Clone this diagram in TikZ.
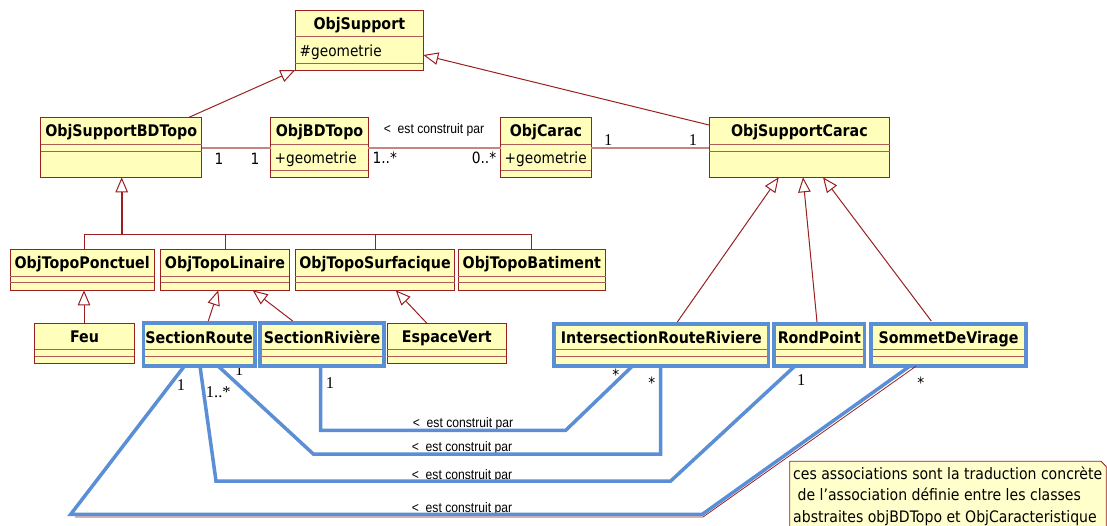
\documentclass[tikz,border=0pt]{standalone}
\usepackage{fontspec}
\usetikzlibrary{arrows.meta,calc}
\newfontfamily\tah[FakeStretch=0.89]{DejaVu Sans}
\newfontfamily\narrowf[FakeStretch=0.88]{Liberation Sans}
\newfontfamily\serf{Liberation Serif}
\definecolor{clsred}{HTML}{9A1F1F}
\definecolor{clsfill}{HTML}{FFFFBB}
\definecolor{compred}{HTML}{B05A5A}
\definecolor{assocpink}{HTML}{C58585}
\definecolor{hlblue}{HTML}{5A8ED5}
\definecolor{notefill}{HTML}{FFFFCC}
\tikzset{
  clsbox/.style={draw=clsred,line width=1pt,fill=clsfill,anchor=north west,inner sep=0pt,outer sep=0pt},
  compline/.style={draw=compred,line width=1pt},
  ttl/.style={font={\tah\bfseries\fontsize{16}{19}\selectfont},anchor=base,inner sep=0pt},
  attr/.style={font={\tah\fontsize{15.4}{18}\selectfont},anchor=base west,inner sep=0pt},
  mults/.style={font={\tah\fontsize{15.5}{18}\selectfont},anchor=base,inner sep=0pt},
  multr/.style={font={\serf\fontsize{16.5}{19}\selectfont},anchor=base,inner sep=0pt},
  role/.style={font={\narrowf\fontsize{13.8}{16}\selectfont},anchor=base,inner sep=0pt},
  gen/.style={draw=clsred,line width=1pt,-{Triangle[length=15pt,width=12.5pt,fill=white,line width=1pt]}},
  assoc/.style={draw=assocpink,line width=2pt},
  hlbox/.style={draw=hlblue,line width=3.6pt,anchor=north west,inner sep=0pt,outer sep=0pt},
  conn/.style={draw=hlblue,line width=3.5pt},
  connred/.style={draw=clsred,line width=0.8pt},
  notebox/.style={draw=clsred,line width=0.8pt,fill=notefill},
  notetxt/.style={font={\tah\fontsize{15.8}{21.3}\selectfont},anchor=base west,inner sep=0pt}
}
\newcommand\umlclass[8]{%
  \node[clsbox,minimum width={(#4)-(#2)},minimum height={(#5)-(#3)}] (#1) at (#2,#3) {};
  \node[ttl] (#1-t) at ({((#2)+(#4))/2},{((#3)+(#7))/2+6}) {#6};
  \draw[compline] (#1.west |- 0,#7) -- (#1.east |- 0,#7);
  \draw[compline] (#1.west |- 0,#8) -- (#1.east |- 0,#8);}
\newcommand\hlframe[5]{%
  \node[hlbox,minimum width={(#4)-(#2)-3.6},minimum height={(#5)-(#3)-3.6}] (#1) at ({(#2)+1.8},{(#3)+1.8}) {};}
\begin{document}
\begin{tikzpicture}[x=1pt,y=-1pt]
\useasboundingbox (0,0) rectangle (1107,525);
% ---------- classes ----------
\umlclass{OS}{295.3}{10}{423.3}{70}{ObjSupport}{36.7}{63.3}
\node[attr] (OS-a) at (299.5,56.5) {\#geometrie};
\umlclass{BDT}{40.7}{117.3}{201.7}{177.3}{ObjSupportBDTopo}{144.3}{151}
\umlclass{OBT}{270.7}{117.3}{368.3}{177.3}{ObjBDTopo}{144.3}{170}
\node[attr] (OBT-a) at (274.5,163.3) {+geometrie};
\umlclass{OC}{500.7}{117.3}{591.3}{177.3}{ObjCarac}{144.3}{170}
\node[attr] (OC-a) at (504.5,163.3) {+geometrie};
\umlclass{OSC}{709}{117.3}{889.7}{177.3}{ObjSupportCarac}{144.3}{151}
\umlclass{OTP}{10}{249.3}{154.3}{290.3}{ObjTopoPonctuel}{276}{282.7}
\umlclass{OTL}{160.7}{249.3}{289.3}{290.3}{ObjTopoLinaire}{276}{282.7}
\umlclass{OTS}{295.3}{249.3}{454.7}{290.3}{ObjTopoSurfacique}{276}{282.7}
\umlclass{OTB}{458}{249.3}{605.7}{290.3}{ObjTopoBatiment}{276}{282.7}
\umlclass{Feu}{34.7}{323.7}{134.3}{363.7}{Feu}{349.7}{356.3}
\umlclass{EV}{387.3}{323.7}{506.3}{363.7}{EspaceVert}{349.7}{356.3}
\umlclass{SR}{144}{324.5}{254}{365}{SectionRoute}{349.7}{356.3}
\umlclass{SRV}{260.6}{324.5}{383.4}{365}{SectionRivière}{349.7}{356.3}
\umlclass{IRR}{554.6}{325}{768}{365}{IntersectionRouteRiviere}{349.7}{356.3}
\umlclass{RP}{774.6}{325}{864}{365}{RondPoint}{349.7}{356.3}
\umlclass{SDV}{871.3}{325}{1025.7}{365}{SommetDeVirage}{349.7}{356.3}
% ---------- generalizations ----------
\draw[gen] (189,0 |- BDT.north) -- (OS.south west);
\draw[gen] (OSC.west |- 0,125) -- (OS.east |- 0,55);
\coordinate (bus) at (121.7,234.3);
\draw[draw=clsred,line width=1pt] (84,0 |- OTP.north) -- (84,234.3) -- (531.3,234.3) -- (531.3,0 |- OTB.north);
\draw[draw=clsred,line width=1pt] (225,234.3) -- (225,0 |- OTL.north);
\draw[draw=clsred,line width=1pt] (375,234.3) -- (375,0 |- OTS.north);
\draw[gen,line width=2pt] (bus) -- (121.7,0 |- BDT.south);
\draw[gen] (84,0 |- Feu.north) -- (84,0 |- OTP.south);
\draw[gen] (208.3,321) -- (218.3,0 |- OTL.south);
\draw[gen] (292.7,321) -- (252.7,0 |- OTL.south);
\draw[gen] (427.3,0 |- EV.north) -- (395.7,0 |- OTS.south);
\draw[gen] (677.3,322) -- (778.7,0 |- OSC.south);
\draw[gen] (817,322) -- (803,0 |- OSC.south);
\draw[gen] (931.3,321) -- (823,0 |- OSC.south);
% ---------- associations (top) ----------
\draw[assoc] (BDT.east |- 0,147.7) -- (OBT.west |- 0,147.7);
\draw[assoc] (OBT.east |- 0,147.7) -- (OC.west |- 0,147.7);
\draw[assoc] (OC.east |- 0,147.7) -- (OSC.west |- 0,147.7);
\node[mults] (m1) at (219,164) {1};
\node[mults] (m2) at (255,164) {1};
\node[mults] (m3) at (384.8,163.3) {1..*};
\node[mults] (m4) at (484,163.3) {0..*};
\node[role] (r0) at (434,133.3) {<\ \ est construit par};
\node[multr] (m5) at (608.3,145) {1};
\node[multr] (m6) at (693,145) {1};
% ---------- lower labels ----------
\node[multr] (m7) at (181,390.3) {1};
\node[multr] (m8) at (218.3,397) {1..*};
\node[multr] (m9) at (239.3,375.3) {1};
\node[multr] (m10) at (330,388.7) {1};
\node[mults] (m11) at (615.7,380.5) {*};
\node[mults] (m12) at (651.7,388.3) {*};
\node[multr] (m13) at (801.3,385.3) {1};
\node[mults] (m14) at (920.7,388) {*};
\node[role] (r1) at (463,427.7) {<\ \ est construit par};
\node[role] (r2) at (462,451.3) {<\ \ est construit par};
\node[role] (r3) at (462,479.3) {<\ \ est construit par};
\node[role] (r4) at (462,512) {<\ \ est construit par};
% ---------- highlight frames ----------
\hlframe{SRf}{141.7}{321}{256.7}{368}
\hlframe{SRVf}{258.3}{321}{385.7}{368}
\hlframe{IRRf}{552.3}{322}{770.3}{368}
\hlframe{RPf}{772.3}{322}{866.3}{368}
\hlframe{SDVf}{869}{322}{1028}{368}
% ---------- highlighted associations ----------
\draw[connred] (75,517) -- (703,517) -- (916,0 |- SDVf.south);
\draw[conn] (184.3,0 |- SRf.south) -- (70.7,514.3) -- (702.3,514.3) -- (909.7,0 |- SDVf.south);
\draw[conn] (200,0 |- SRf.south) -- (216,481) -- (670.7,481) -- (794.7,0 |- RPf.south);
\draw[conn] (218.3,0 |- SRf.south) -- (313.3,454) -- (660.7,454) -- (660.7,0 |- IRRf.south);
\draw[conn] (320.7,0 |- SRVf.south) -- (320.7,430.3) -- (565.7,430.3) -- (632.3,0 |- IRRf.south);
% ---------- note ----------
\draw[notebox] (789.7,461.3) -- (1101,461.3) -- (1106.3,466.6) -- (1106.3,530) -- (789.7,530) -- cycle;
\node[notetxt] (n1) at (793,479.3) {ces associations sont la traduction concrète};
\node[notetxt] (n2) at (793,500.3) {\ de l’association définie entre les classes};
\node[notetxt] (n3) at (793,522) {abstraites objBDTopo et ObjCaracteristique};
\end{tikzpicture}
\end{document}
